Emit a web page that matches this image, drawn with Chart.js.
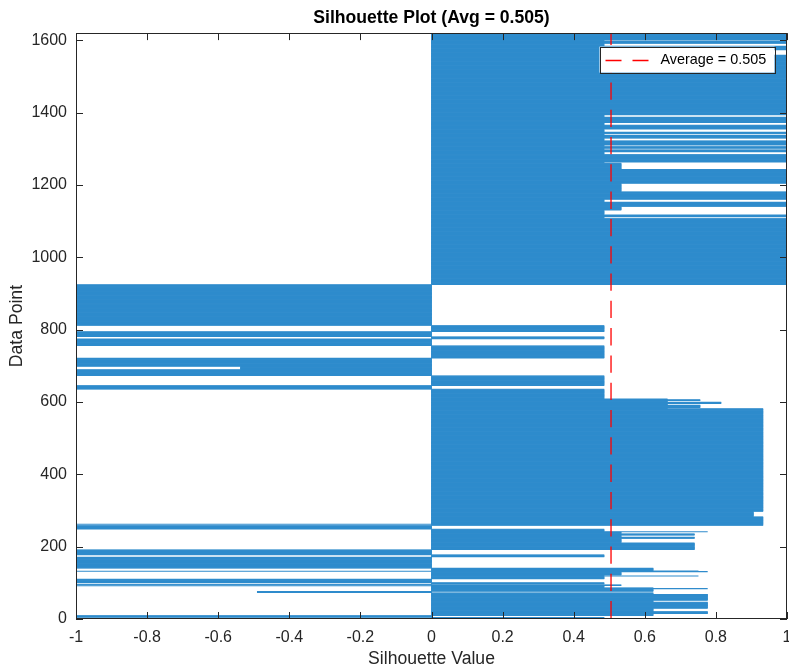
<!DOCTYPE html>
<html>
<head>
<meta charset="utf-8">
<title>Silhouette Plot</title>
<script src="https://cdn.jsdelivr.net/npm/chart.js@4.4.1/dist/chart.umd.min.js"></script>
<style>
    html, body { margin: 0; padding: 0; background: #fff; }
    canvas { display: block; }
</style>
</head>
<body>
<canvas id="chart" width="789" height="671"></canvas>
<script>
// silhouette values, stored as runs of consecutive points:
// run i covers points runStart[i] .. runStart[i + 1] - 1 and has value runValue[i]
const runStart = [
    1, 5, 10, 15, 21, 30, 47, 52, 69, 73, 77, 84, 85, 87, 92, 93, 95, 97, 101, 111,
    119, 120, 122, 131, 132, 133, 134, 141, 172, 178, 192, 211, 223, 227, 232, 236, 241, 242, 249, 259,
    262, 263, 283, 298, 582, 585, 592, 596, 600, 604, 607, 609, 636, 646, 673, 690, 699, 722, 756, 775,
    781, 795, 812, 925, 1108, 1112, 1118, 1131, 1141, 1153, 1161, 1182, 1205, 1244, 1261, 1264, 1285, 1292, 1298, 1302,
    1307, 1311, 1323, 1330, 1338, 1342, 1347, 1355, 1366, 1373, 1388, 1394, 1560, 1574, 1585, 1592, 1598, 1601
];
const runValue = [
    0.485, -1, 0.623, 0.776, 0.623, 0.776, 0.623, 0.776, 0.623, -0.49, 0.623, 0.776, 0.623, 0.485, -1, 0.533, -1, 0.485, -1, 0.485,
    0.75, 0.485, 0.533, 0.776, -1, 0.75, 0.623, -1, 0.485, -1, 0.739, 0.533, 0.739, 0.533, 0.739, 0.533, 0.776, 0.485, -1, 0.932,
    -1, 0.932, 0.905, 0.932, 0.663, 0.755, 0.663, 0.814, 0.663, 0.755, 0.663, 0.485, -1, 0.485, -1, -0.537, -1, 0.485, -1, 0.485,
    -1, 0.485, -1, 1, 0.485, 1, 0.485, 0.533, 1, 0.485, 1, 0.533, 1, 0.533, 0.485, 1, 0.485, 1, 0.485, 1,
    0.485, 1, 0.485, 1, 0.485, 1, 0.485, 1, 0.485, 1, 0.485, 1, 0.96, 1, 0.485, 1, 0.485, 1
];
const pointCount = 1620;
const avgValue = 0.505;
const xRange = [-1, 1];
const yRange = [0, 1620];
const yTicks = [0, 200, 400, 600, 800, 1000, 1200, 1400, 1600];

const points = [];
runStart.forEach((start, i) => {
    const end = i + 1 < runStart.length ? runStart[i + 1] - 1 : pointCount;
    for (let n = start; n <= end; n++) {
        points.push({ x: runValue[i], y: n });
    }
});

Chart.defaults.font.family = '"Liberation Sans", Arial, Helvetica, sans-serif';
Chart.defaults.color = '#262626';

const axisColor = '#262626';

// MATLAB style box with inward ticks on all four sides
const boxTicks = {
    id: 'boxTicks',
    afterDatasetsDraw(chart) {
        const { ctx, chartArea: a, scales: { x, y } } = chart;
        ctx.save();
        ctx.strokeStyle = axisColor;
        ctx.lineWidth = 1;
        ctx.beginPath();
        x.ticks.forEach(t => {
            const px = Math.round(x.getPixelForValue(t.value)) + 0.5;
            ctx.moveTo(px, a.bottom); ctx.lineTo(px, a.bottom - 7);
            ctx.moveTo(px, a.top); ctx.lineTo(px, a.top + 7);
        });
        y.ticks.forEach(t => {
            const py = Math.round(y.getPixelForValue(t.value)) + 0.5;
            ctx.moveTo(a.left, py); ctx.lineTo(a.left + 7, py);
            ctx.moveTo(a.right, py); ctx.lineTo(a.right - 7, py);
        });
        ctx.stroke();
        ctx.strokeRect(Math.round(a.left) + 0.5, Math.round(a.top) + 0.5,
            Math.round(a.width) - 1, Math.round(a.height) - 1);
        ctx.restore();
    }
};

// legend box in the top right corner of the axes
const legendBox = {
    id: 'legendBox',
    afterDraw(chart) {
        const { ctx, chartArea: a } = chart;
        const ds = chart.data.datasets[1];
        const right = a.right - 12.5, top = a.top + 13.5;
        const w = 175, h = 26;
        const left = right - w;
        ctx.save();
        ctx.fillStyle = '#fff';
        ctx.fillRect(left, top, w, h);
        ctx.strokeStyle = axisColor;
        ctx.lineWidth = 1;
        ctx.strokeRect(Math.round(left) + 0.5, Math.round(top) + 0.5, w, h);
        const ly = Math.round(top + h / 2) + 0.5;
        ctx.strokeStyle = ds.borderColor;
        ctx.lineWidth = ds.borderWidth;
        ctx.setLineDash([16, 11]);
        ctx.beginPath();
        ctx.moveTo(left + 6, ly);
        ctx.lineTo(left + 50, ly);
        ctx.stroke();
        ctx.setLineDash([]);
        ctx.fillStyle = '#000';
        ctx.font = '14.4px "Liberation Sans", Arial, sans-serif';
        ctx.textBaseline = 'middle';
        ctx.textAlign = 'left';
        ctx.fillText(ds.label, left + 61, top + h / 2 + 0.5);
        ctx.restore();
    }
};

new Chart(document.getElementById('chart'), {
    type: 'bar',
    data: {
        datasets: [{
            label: 'Silhouette',
            data: points,
            backgroundColor: '#2f8bcc',
            borderWidth: 0,
            barPercentage: 1,
            categoryPercentage: 1,
            order: 1
        }, {
            type: 'line',
            label: `Average = ${avgValue}`,
            data: [{ x: avgValue, y: yRange[1] }, { x: avgValue, y: yRange[0] }],
            borderColor: '#ff0000',
            borderWidth: 1.3,
            borderDash: [17.3, 10],
            borderDashOffset: 5.3,
            pointRadius: 0,
            fill: false,
            order: 0
        }]
    },
    options: {
        indexAxis: 'y',
        responsive: false,
        animation: false,
        events: [],
        layout: { padding: { left: 0, right: 2, top: 0, bottom: 0 } },
        plugins: {
            legend: { display: false },
            tooltip: { enabled: false },
            title: {
                display: true,
                text: `Silhouette Plot (Avg = ${avgValue})`,
                fullSize: false,
                color: '#000',
                font: { size: 17.6, weight: 'bold' },
                padding: { top: 8, bottom: 4 }
            }
        },
        scales: {
            x: {
                type: 'linear',
                min: xRange[0],
                max: xRange[1],
                grid: { display: false, drawTicks: false },
                border: { display: false },
                ticks: {
                    stepSize: 0.2,
                    padding: 9,
                    maxRotation: 0,
                    font: { size: 16 },
                    callback: v => String(Number(v.toFixed(1)))
                },
                title: {
                    display: true,
                    text: 'Silhouette Value',
                    font: { size: 17.6 },
                    padding: { top: 0, bottom: 1 }
                },
                afterFit: s => {
                    s.height = 52;
                    s.paddingLeft = 0;
                    s.paddingRight = 0;
                }
            },
            y: {
                type: 'linear',
                min: yRange[0],
                max: yRange[1],
                offset: false,
                grid: { display: false, drawTicks: false },
                border: { display: false },
                ticks: {
                    padding: 9,
                    font: { size: 16 },
                    callback: v => String(v)
                },
                afterBuildTicks: s => {
                    s.ticks = yTicks.map(v => ({ value: v }));
                },
                title: {
                    display: true,
                    text: 'Data Point',
                    font: { size: 17.6 },
                    padding: { top: 7, bottom: 0 }
                },
                afterFit: s => {
                    s.width = 76;
                    s.paddingTop = 0;
                    s.paddingBottom = 0;
                }
            }
        }
    },
    plugins: [boxTicks, legendBox]
});
</script>
</body>
</html>
